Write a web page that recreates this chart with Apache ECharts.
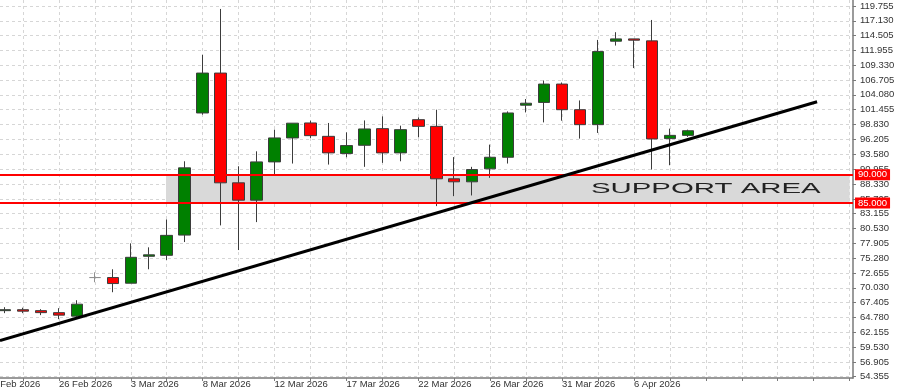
<!DOCTYPE html>
<html>
<head>
<meta charset="utf-8">
<script src="https://cdn.jsdelivr.net/npm/echarts@6/dist/echarts.min.js"></script>
<style>
html,body{margin:0;padding:0;background:#fff;}
#chart{width:900px;height:389px;}
</style>
</head>
<body>
<div id="chart"></div>
<script>
// ---- data ----
const opens  = [66.01,66.18,66.01,65.66,65.04,71.85,71.85,70.85,75.60,75.77,79.34,100.88,107.92,88.56,85.50,92.25,96.48,99.12,96.76,93.72,95.18,98.12,93.84,99.70,98.52,89.27,88.74,91.03,93.07,102.25,102.74,105.98,101.46,98.82,113.54,113.95,113.60,96.36,96.93];
const closes = [66.18,65.92,65.66,65.22,67.15,71.85,70.79,75.42,75.86,79.29,91.20,107.92,88.56,85.50,92.25,96.48,99.08,96.88,93.84,95.13,98.06,93.84,97.94,98.52,89.27,88.74,90.90,93.07,100.88,102.60,105.98,101.46,98.82,111.71,113.95,113.72,96.30,96.93,97.75];
const lows   = [65.57,65.57,65.22,64.51,64.86,71.02,69.26,70.85,73.31,74.95,78.11,100.58,81.05,76.70,81.63,90.02,91.96,96.48,91.78,93.07,91.38,92.08,92.36,96.58,84.45,86.21,86.33,89.44,91.96,100.98,99.22,99.52,96.36,97.36,112.77,108.80,90.90,91.66,96.66];
const highs  = [66.62,66.53,66.27,66.45,67.85,72.78,73.31,77.88,77.18,82.10,92.36,111.13,119.23,91.48,94.12,97.94,99.08,99.52,99.12,97.46,99.57,100.28,98.64,100.10,101.46,93.10,91.38,95.30,101.16,103.34,106.61,106.26,103.09,113.77,115.13,113.95,117.29,98.12,97.94];

const xTickIndex  = [-1,3,7,11,15,19,23,27,31,35];
const xTickLabels = ['22 Feb 2026','26 Feb 2026','3 Mar 2026','8 Mar 2026','12 Mar 2026','17 Mar 2026','22 Mar 2026','26 Mar 2026','31 Mar 2026','6 Apr 2026'];
const xGridIndex  = [1,3,5,7,9,11,13,15,17,19,21,23,25,27,29,31,33,35,37,39,41,43,45,47];

const yTicks = [119.755,117.130,114.505,111.955,109.330,106.705,104.080,101.455,98.830,96.205,93.580,90.955,88.330,85.705,83.155,80.530,77.905,75.280,72.655,70.030,67.405,64.780,62.155,59.530,56.905,54.355];

const supportTop = 90.000;
const supportBottom = 85.000;
const supportFrom = 8.96;
const supportTo = 47.0;
const lastPrice = 97.750;

const trendStart = [-0.278, 60.73];
const trendEnd   = [45.19, 102.85];

const supportText = 'SUPPORT AREA';
const supportTextAt = [39, 87.5];

// ---- build ----
const candleData = opens.map((o, i) => [i, o, closes[i], lows[i], highs[i]]);
const X_MIN = -0.278, X_MAX = 47.19, Y_MIN = 54.13, Y_MAX = 120.81;

const chart = echarts.init(document.getElementById('chart'), null, {renderer: 'canvas'});
const axisColor = '#7a7a7a';
const gridColor = '#d6d6d6';
const FONT_FAMILY = 'Liberation Sans, Arial, sans-serif';
const labelFont = {fontFamily: FONT_FAMILY, fontSize: 9.5, color: '#333'};

chart.setOption({
  animation: false,
  backgroundColor: '#fff',
  grid: {left: 0, right: 47, top: 0, bottom: 10, containLabel: false},
  xAxis: {
    type: 'value', min: X_MIN, max: X_MAX,
    axisLine: {show: true, onZero: false, lineStyle: {color: axisColor, width: 1.5}},
    axisTick: {show: true, length: 3, customValues: xGridIndex, lineStyle: {color: axisColor}},
    axisLabel: Object.assign({show: true, customValues: xTickIndex.filter(v => v >= X_MIN), align: 'left', margin: 1,
      formatter: v => { const j = xTickIndex.indexOf(Math.round(v)); return j >= 0 ? xTickLabels[j] : ''; }}, labelFont),
    splitLine: {show: true, lineStyle: {color: gridColor, type: [3, 3], width: 1}}
  },
  yAxis: {
    type: 'value', position: 'right', min: Y_MIN, max: Y_MAX,
    axisLine: {show: true, onZero: false, lineStyle: {color: axisColor, width: 1.5}},
    axisTick: {show: true, length: 3, customValues: yTicks, lineStyle: {color: axisColor}},
    axisLabel: Object.assign({show: true, customValues: yTicks, margin: 7,
      formatter: v => v.toFixed(3)}, labelFont),
    splitLine: {show: true, lineStyle: {color: gridColor, type: [3, 3], width: 1}}
  },
  series: [
    {
      type: 'line', data: [], z: 1, silent: true,
      markArea: {
        silent: true,
        itemStyle: {color: '#d9d9d9'},
        data: [[{coord: [supportFrom, supportTop]}, {coord: [supportTo, supportBottom]}]]
      },
      markLine: {
        silent: true, symbol: 'none',
        lineStyle: {color: '#ff0000', width: 2, type: 'solid'},
        label: {show: true, position: 'end', distance: 2, backgroundColor: '#ff0000', color: '#fff',
          padding: [1, 3, 0, 3], fontFamily: FONT_FAMILY, fontSize: 9.5,
          formatter: p => p.value.toFixed(3)},
        data: [{yAxis: supportTop}, {yAxis: supportBottom}]
      }
    },
    {
      type: 'candlestick', z: 3,
      data: candleData,
      barWidth: 12,
      itemStyle: {
        color: '#008000', color0: '#ff0000',
        borderColor: '#3c3c3c', borderColor0: '#3c3c3c',
        borderColorDoji: '#909090', borderWidth: 1
      },
      markLine: {
        silent: true, symbol: 'none',
        lineStyle: {opacity: 0, width: 0},
        label: {show: true, position: 'end', distance: 3, backgroundColor: '#000', color: '#fff',
          padding: [1, 3, 0, 3], fontFamily: FONT_FAMILY, fontSize: 9.5,
          formatter: p => p.value.toFixed(3)},
        data: [{yAxis: lastPrice}]
      }
    },
    {
      type: 'line', z: 5, silent: true,
      data: [trendStart, trendEnd],
      showSymbol: false, symbol: 'none',
      lineStyle: {color: '#000', width: 3}
    }
  ]
});

// text annotation and the partly cut-off first date label (its tick lies left of the plot)
const pos = chart.convertToPixel({gridIndex: 0}, supportTextAt);
const graphics = [{
  type: 'text', x: pos[0], y: pos[1], scaleX: 2.1, scaleY: 1.05, z: 10, silent: true,
  style: {text: supportText, fill: '#222', font: '14px "Liberation Sans", Arial, sans-serif',
    textAlign: 'center', textVerticalAlign: 'middle'}
}];
xTickIndex.forEach((v, j) => {
  if (v < X_MIN) {
    const p = chart.convertToPixel({gridIndex: 0}, [v, Y_MIN]);
    graphics.push({
      type: 'text', x: p[0], y: p[1] + 1.5, z: 10, silent: true,
      style: {text: xTickLabels[j], fill: '#333', font: '9.5px "Liberation Sans", Arial, sans-serif',
        textAlign: 'left', textVerticalAlign: 'top'}
    });
  }
});
chart.setOption({graphic: graphics});
</script>
</body>
</html>
